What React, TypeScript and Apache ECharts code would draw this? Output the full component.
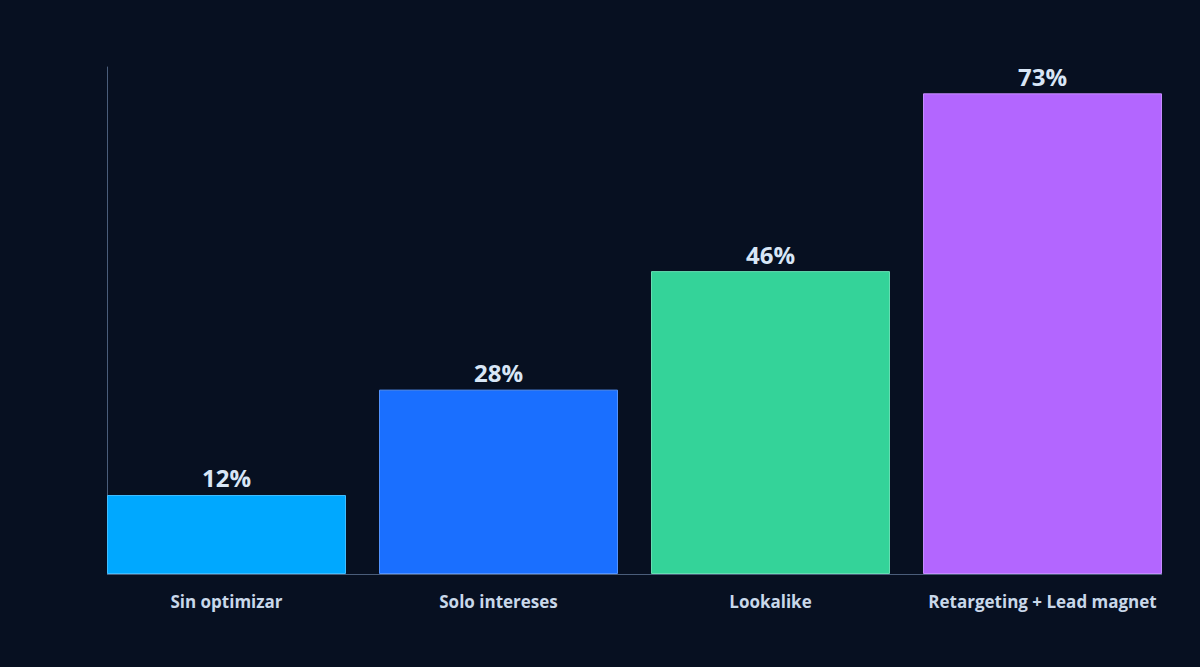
import { useEffect, useRef } from 'react'
import * as echarts from 'echarts'

// categories & values
const categories = ['Sin optimizar', 'Solo intereses', 'Lookalike', 'Retargeting + Lead magnet']
const values = [12, 28, 46, 73]
const barColors = ['#00a8ff', '#1a6fff', '#34d399', '#b366ff']

function App() {
  const chartRef = useRef<HTMLDivElement>(null)

  useEffect(() => {
    document.body.style.margin = '0'
    const myChart = echarts.init(chartRef.current, null, { renderer: 'svg' })

    const option = {
      animation: false,
      backgroundColor: '#071021',
      textStyle: { fontFamily: '"Open Sans", "Noto Sans", sans-serif' },
      grid: { left: 90.5, right: 21.5, top: 67, bottom: 93 },
      xAxis: {
        type: 'category',
        data: categories,
        axisLine: { show: false },
        axisTick: { show: false },
        axisLabel: {
          interval: 0,
          hideOverlap: false,
          color: '#c9d8ea',
          fontSize: 17,
          fontWeight: 'bold',
          margin: 19
        }
      },
      yAxis: {
        type: 'value',
        min: 0,
        max: 77,
        offset: -16.5,
        axisLine: { show: true, lineStyle: { color: '#4a5d7a', width: 1 } },
        axisTick: { show: false },
        axisLabel: { show: false },
        splitLine: { show: false }
      },
      graphic: [
        {
          type: 'line',
          shape: { x1: 107, y1: 574.5, x2: 1162, y2: 574.5 },
          style: { stroke: '#4a5d7a', lineWidth: 1 },
          z: 10
        }
      ],
      series: [
        {
          type: 'bar',
          barWidth: 239,
          data: values.map((v, i) => ({
            value: v,
            itemStyle: { color: barColors[i], borderColor: echarts.color.lift(barColors[i], 0.25), borderWidth: 1 }
          })),
          label: {
            show: true,
            position: 'top',
            distance: 5,
            formatter: '{c}%',
            color: '#d8e6f6',
            fontSize: 24,
            fontWeight: 'bold'
          }
        }
      ]
    }

    myChart.setOption(option)

    return () => {
      myChart.dispose()
    }
  }, [])

  return <div ref={chartRef} style={{ width: '1200px', height: '667px' }}></div>
}

export default App
